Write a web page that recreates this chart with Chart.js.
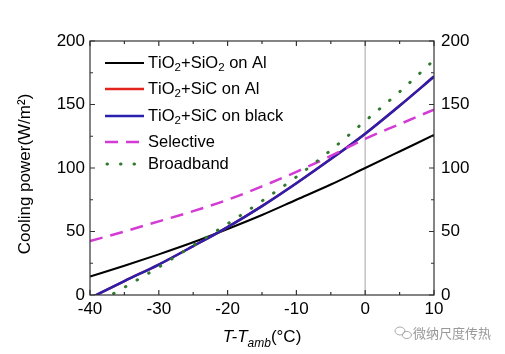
<!DOCTYPE html>
<html>
<head>
<meta charset="utf-8">
<script src="https://cdn.jsdelivr.net/npm/chart.js@4/dist/chart.umd.min.js"></script>
<style>
  body { margin: 0; background: #fff; }
  #wrap { width: 505px; height: 354px; position: relative; }
</style>
</head>
<body>
<div id="wrap"><canvas id="coolChart"></canvas></div>
<script>
// values (T - Tamb in °C, cooling power in W/m2)
const temps = [-40, -35, -30, -25, -20, -15, -10, -5, 0, 5, 10];
const sio2OnAl = [14.5, 23, 32, 41.5, 52, 63, 75, 87, 100, 113, 126];
const sicOnAl = [-2.5, 11, 24, 38.5, 53.5, 70, 88, 107, 127, 149, 172];
const sicOnBlack = [-2.5, 11, 24, 38.5, 53.5, 70, 88, 107, 127, 149, 172];
const selective = [42.5, 50, 58, 66, 75, 85.5, 97, 109.5, 123, 134.5, 146];
const broadband = [-9, 6, 22, 39, 56, 74, 93, 114, 137, 160, 185];

const xTicks = [-40, -30, -20, -10, 0, 10];
const yTicks = [0, 50, 100, 150, 200];

const FONT = "'Liberation Sans', Arial, sans-serif";

function pts(arr) {
    return temps.map((t, i) => ({x: t, y: arr[i]}));
}

function lineSet(label, arr, color, width, dash, order, cap) {
    return {
        label: label,
        data: pts(arr),
        showLine: true,
        borderColor: color,
        backgroundColor: color,
        borderWidth: width,
        borderDash: dash,
        borderCapStyle: cap || 'butt',
        pointRadius: 0,
        cubicInterpolationMode: 'monotone',
        clip: 0,
        order: order
    };
}

// draws text where '₂' becomes a real subscript
function richText(ctx, text, x, y, size) {
    let cx = x;
    for (const ch of text) {
        if (ch === '₂') {
            ctx.font = (size * 0.7) + 'px ' + FONT;
            ctx.fillText('2', cx, y + size * 0.3);
            cx += ctx.measureText('2').width;
        } else {
            ctx.font = size + 'px ' + FONT;
            ctx.fillText(ch, cx, y);
            cx += ctx.measureText(ch).width;
        }
    }
}

// legend inside the plot, frame, inward ticks, axis titles, watermark
const decor = {
    id: 'decor',
    afterDraw(chart) {
        const {ctx, chartArea: a, scales: {x, y}} = chart;
        ctx.save();

        // frame
        ctx.strokeStyle = '#333';
        ctx.lineWidth = 1.2;
        ctx.strokeRect(a.left, a.top, a.right - a.left, a.bottom - a.top);

        // inward ticks (major + minor)
        ctx.beginPath();
        for (let i = 0; i < xTicks.length; i++) {
            const vals = [[xTicks[i], 5]];
            if (i < xTicks.length - 1) vals.push([(xTicks[i] + xTicks[i + 1]) / 2, 3]);
            vals.forEach(([v, len]) => {
                const px = x.getPixelForValue(v);
                ctx.moveTo(px, a.bottom); ctx.lineTo(px, a.bottom - len);
                ctx.moveTo(px, a.top); ctx.lineTo(px, a.top + len);
            });
        }
        for (let i = 0; i < yTicks.length; i++) {
            const vals = [[yTicks[i], 5]];
            if (i < yTicks.length - 1) vals.push([(yTicks[i] + yTicks[i + 1]) / 2, 3]);
            vals.forEach(([v, len]) => {
                const py = y.getPixelForValue(v);
                ctx.moveTo(a.left, py); ctx.lineTo(a.left + len, py);
                ctx.moveTo(a.right, py); ctx.lineTo(a.right - len, py);
            });
        }
        ctx.stroke();

        // legend
        const rows = [63, 89, 116, 142, 164];
        let r = 0;
        chart.data.datasets.forEach(ds => {
            if (ds.noLegend) return;
            const yy = rows[r++];
            const dotted = ds.borderCapStyle === 'round';
            ctx.beginPath();
            ctx.strokeStyle = ds.borderColor;
            ctx.lineWidth = ds.borderWidth;
            ctx.setLineDash(ds.borderDash || []);
            ctx.lineCap = ds.borderCapStyle;
            ctx.moveTo(dotted ? 107 : 105, yy);
            ctx.lineTo(144, yy);
            ctx.stroke();
            ctx.setLineDash([]);
            ctx.fillStyle = '#000';
            ctx.textBaseline = 'middle';
            ctx.textAlign = 'left';
            richText(ctx, ds.label, 148, yy, 16.5);
        });

        // y title
        ctx.save();
        ctx.translate(25, 174);
        ctx.rotate(-Math.PI / 2);
        ctx.font = '17px ' + FONT;
        ctx.textAlign = 'center';
        ctx.textBaseline = 'middle';
        ctx.fillStyle = '#000';
        ctx.fillText('Cooling power(W/m²)', 0, 0);
        ctx.restore();

        // x title: T-T_amb(°C)
        ctx.textBaseline = 'alphabetic';
        ctx.textAlign = 'left';
        ctx.fillStyle = '#000';
        const parts = [
            ['T-T', 'italic 17px ' + FONT, 0],
            ['amb', 'italic 12px ' + FONT, 5],
            ['(°C)', '17px ' + FONT, 0]
        ];
        let w = 0;
        parts.forEach(p => { ctx.font = p[1]; w += ctx.measureText(p[0]).width; });
        let cx = (a.left + a.right) / 2 - w / 2;
        parts.forEach(p => {
            ctx.font = p[1];
            ctx.fillText(p[0], cx, 342 + p[2]);
            cx += ctx.measureText(p[0]).width;
        });

        // watermark
        ctx.strokeStyle = '#aaa';
        ctx.lineWidth = 1;
        ctx.beginPath();
        ctx.ellipse(400, 331, 5, 4, 0, 0, Math.PI * 2);
        ctx.stroke();
        ctx.beginPath();
        ctx.ellipse(407, 335, 4.5, 3.5, 0, 0, Math.PI * 2);
        ctx.stroke();
        ctx.fillStyle = '#999';
        ctx.font = "13px 'Noto Sans CJK SC', sans-serif";
        ctx.textBaseline = 'middle';
        ctx.fillText('微纳尺度传热', 413, 333);

        ctx.restore();
    }
};

const ctx = document.getElementById('coolChart').getContext('2d');
const myChart = new Chart(ctx, {
    type: 'scatter',
    data: {
        datasets: [
            lineSet('TiO₂+SiO₂ on Al', sio2OnAl, '#000000', 2, [], 5),
            lineSet('TiO₂+SiC on Al', sicOnAl, '#e3241e', 2.5, [], 4),
            lineSet('TiO₂+SiC on black', sicOnBlack, '#2a20b0', 2.5, [], 3),
            lineSet('Selective', selective, '#d43ad4', 2.5, [13, 8], 2),
            lineSet('Broadband', broadband, '#2f7a2f', 3, [0.5, 13], 1, 'round'),
            {
                label: 'zero',
                noLegend: true,
                data: [{x: 0, y: 0}, {x: 0, y: 200}],
                showLine: true,
                borderColor: '#c4c4c4',
                borderWidth: 1.5,
                pointRadius: 0,
                order: 10
            }
        ]
    },
    options: {
        responsive: true,
        maintainAspectRatio: false,
        animation: false,
        layout: { padding: { top: 41, left: 0, right: 0, bottom: 0 } },
        plugins: {
            legend: { display: false },
            tooltip: { enabled: false }
        },
        scales: {
            x: {
                type: 'linear',
                min: -40,
                max: 10,
                afterBuildTicks: s => { s.ticks = xTicks.map(v => ({value: v})); },
                afterFit: s => { s.height = 59; },
                grid: { display: false, drawTicks: false },
                border: { display: false },
                ticks: {
                    padding: 4,
                    color: '#000',
                    maxRotation: 0,
                    font: { size: 17, family: FONT }
                }
            },
            y: {
                min: 0,
                max: 200,
                afterBuildTicks: s => { s.ticks = yTicks.map(v => ({value: v})); },
                afterFit: s => { s.width = 90; },
                grid: { display: false, drawTicks: false },
                border: { display: false },
                ticks: { padding: 5, color: '#000', font: { size: 17, family: FONT } }
            },
            y2: {
                position: 'right',
                min: 0,
                max: 200,
                afterBuildTicks: s => { s.ticks = yTicks.map(v => ({value: v})); },
                afterFit: s => { s.width = 71; },
                grid: { display: false, drawTicks: false },
                border: { display: false },
                ticks: { padding: 7, color: '#000', font: { size: 17, family: FONT } }
            }
        }
    },
    plugins: [decor]
});
</script>
</body>
</html>
